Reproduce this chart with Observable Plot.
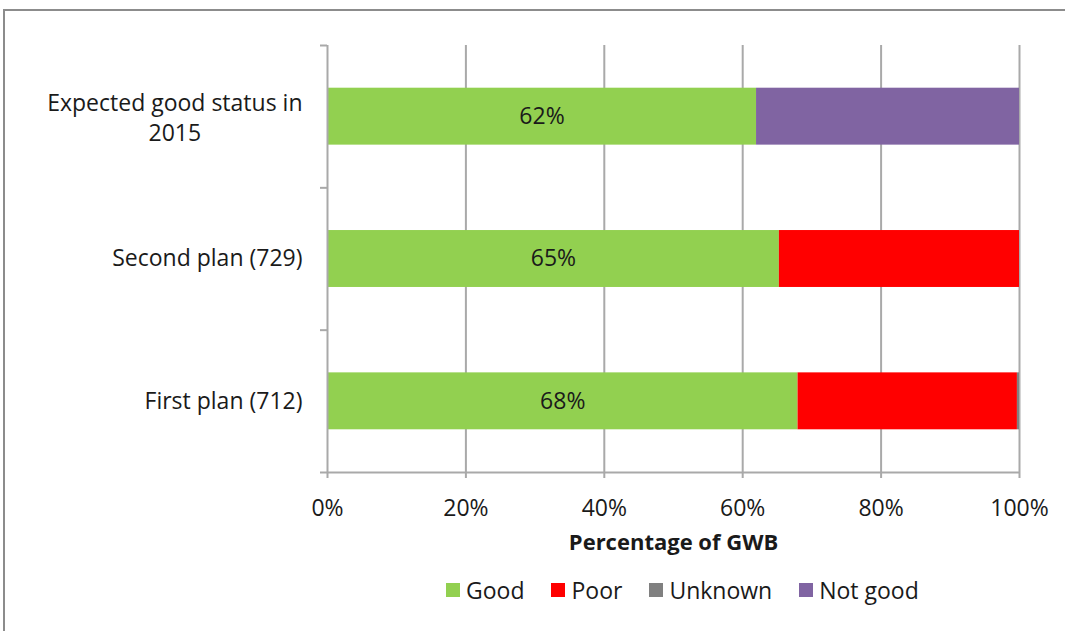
<!DOCTYPE html>
<html><head><meta charset="utf-8">
<script src="https://cdn.jsdelivr.net/npm/d3@7"></script>
<script src="https://cdn.jsdelivr.net/npm/@observablehq/plot@0.6"></script>
<style>
html,body{margin:0;padding:0;background:#fff;overflow:hidden;font-family:"Open Sans",sans-serif;color:#1a1a1a;}
#chart{position:absolute;left:0;top:0;}
#frame{position:absolute;left:3px;top:9px;right:-10px;height:700px;border-top:2px solid #8c8c8c;border-left:2px solid #8c8c8c;pointer-events:none;}
#legend{position:absolute;top:574px;left:446px;display:flex;align-items:center;font-size:23px;white-space:nowrap;}
#legend .item{display:flex;align-items:center;margin-right:27px;}
#legend .sw{width:14px;height:14px;margin-right:6px;}
</style></head><body>
<div id="chart"></div><div id="legend"></div><div id="frame"></div>
<script>
// categories, top to bottom
const categories = ["Expected good status in 2015", "Second plan (729)", "First plan (712)"];
const categoryLabels = ["Expected good status in\n2015", "Second plan (729)", "First plan (712)"];
const statuses = ["Good", "Poor", "Unknown", "Not good"];
const statusColors = ["#92D050", "#FF0000", "#808080", "#8064A2"];
const good = [62, 65.3, 68];
const poor = [0, 34.7, 31.7];
const unknown = [0, 0, 0.3];
const notGood = [38, 0, 0];
const goodLabels = ["62%", "65%", "68%"];
const xTicks = [0, 20, 40, 60, 80, 100];
const xTitle = "Percentage of GWB";

const series = [good, poor, unknown, notGood];
const rows = [];
categories.forEach((c, i) => {
  let cum = 0;
  statuses.forEach((s, k) => {
    const v = series[k][i];
    if (v > 0) { rows.push({cat: c, i, status: s, x1: cum, x2: cum + v}); cum += v; }
  });
});

const FONT = "Open Sans";
const FS = 23;
const gray = "#a9a9a9";
const ctx = document.createElement("canvas").getContext("2d");
ctx.font = `${FS}px "${FONT}"`;
const lineW = s => Math.max(...s.split("\n").map(l => ctx.measureText(l).width));
const labelGap = 25;
const labelRows = categoryLabels.map((l, i) => ({l, i}));
const multi = labelRows.filter(d => d.l.includes("\n"));
const single = labelRows.filter(d => !d.l.includes("\n"));
const barHalf = 0.2;

const chart = Plot.plot({
  width: 1065,
  height: 560,
  marginLeft: 327,
  marginRight: 46,
  marginTop: 45,
  marginBottom: 88,
  style: {fontFamily: FONT, fontSize: FS + "px", color: "#1a1a1a", background: "transparent"},
  x: {domain: [0, 100], label: null},
  y: {domain: [0, categories.length], reverse: true, label: null},
  color: {domain: statuses, range: statusColors},
  marks: [
    Plot.gridX(xTicks.filter(t => t > 0), {stroke: gray, strokeOpacity: 1, strokeWidth: 2}),
    Plot.rect(rows, {x1: "x1", x2: "x2", y1: d => d.i + 0.5 - barHalf, y2: d => d.i + 0.5 + barHalf, fill: "status"}),
    Plot.text(categories, {x: (d, i) => good[i] / 2, y: (d, i) => i + 0.5, text: (d, i) => goodLabels[i], fontSize: FS, fill: "#1a1a1a"}),
    Plot.ruleX([0], {y1: 0, y2: categories.length, stroke: gray, strokeWidth: 2}),
    Plot.ruleY([categories.length], {x1: 0, x2: 100, stroke: gray, strokeWidth: 2}),
    Plot.axisY({ticks: d3.range(categories.length + 1), tickSize: 7, tickFormat: () => "", stroke: gray, strokeWidth: 2, label: null}),
    Plot.axisX({ticks: xTicks, tickFormat: d => d + "%", tickSize: 6, tickPadding: 21, stroke: gray, strokeWidth: 2, fontSize: FS, fill: "#1a1a1a", label: null}),
    Plot.text(single, {x: 0, y: d => d.i + 0.5, text: "l", textAnchor: "end", dx: -labelGap, fontSize: FS, fill: "#1a1a1a"}),
    ...multi.map(d => Plot.text([d], {x: 0, y: e => e.i + 0.5, text: "l", textAnchor: "middle", dx: -(labelGap + lineW(d.l) / 2), lineHeight: 1.3, fontSize: FS, fill: "#1a1a1a"})),
    Plot.text([xTitle], {frameAnchor: "bottom", dy: 77, fontWeight: "bold", fontSize: 22, fill: "#1a1a1a"})
  ]
});
document.getElementById("chart").appendChild(chart);

const legend = document.getElementById("legend");
statuses.forEach((s, k) => {
  const it = document.createElement("div");
  it.className = "item";
  const sw = document.createElement("div");
  sw.className = "sw";
  sw.style.background = statusColors[k];
  const t = document.createElement("span");
  t.textContent = s;
  it.appendChild(sw); it.appendChild(t);
  legend.appendChild(it);
});
</script>
</body></html>
